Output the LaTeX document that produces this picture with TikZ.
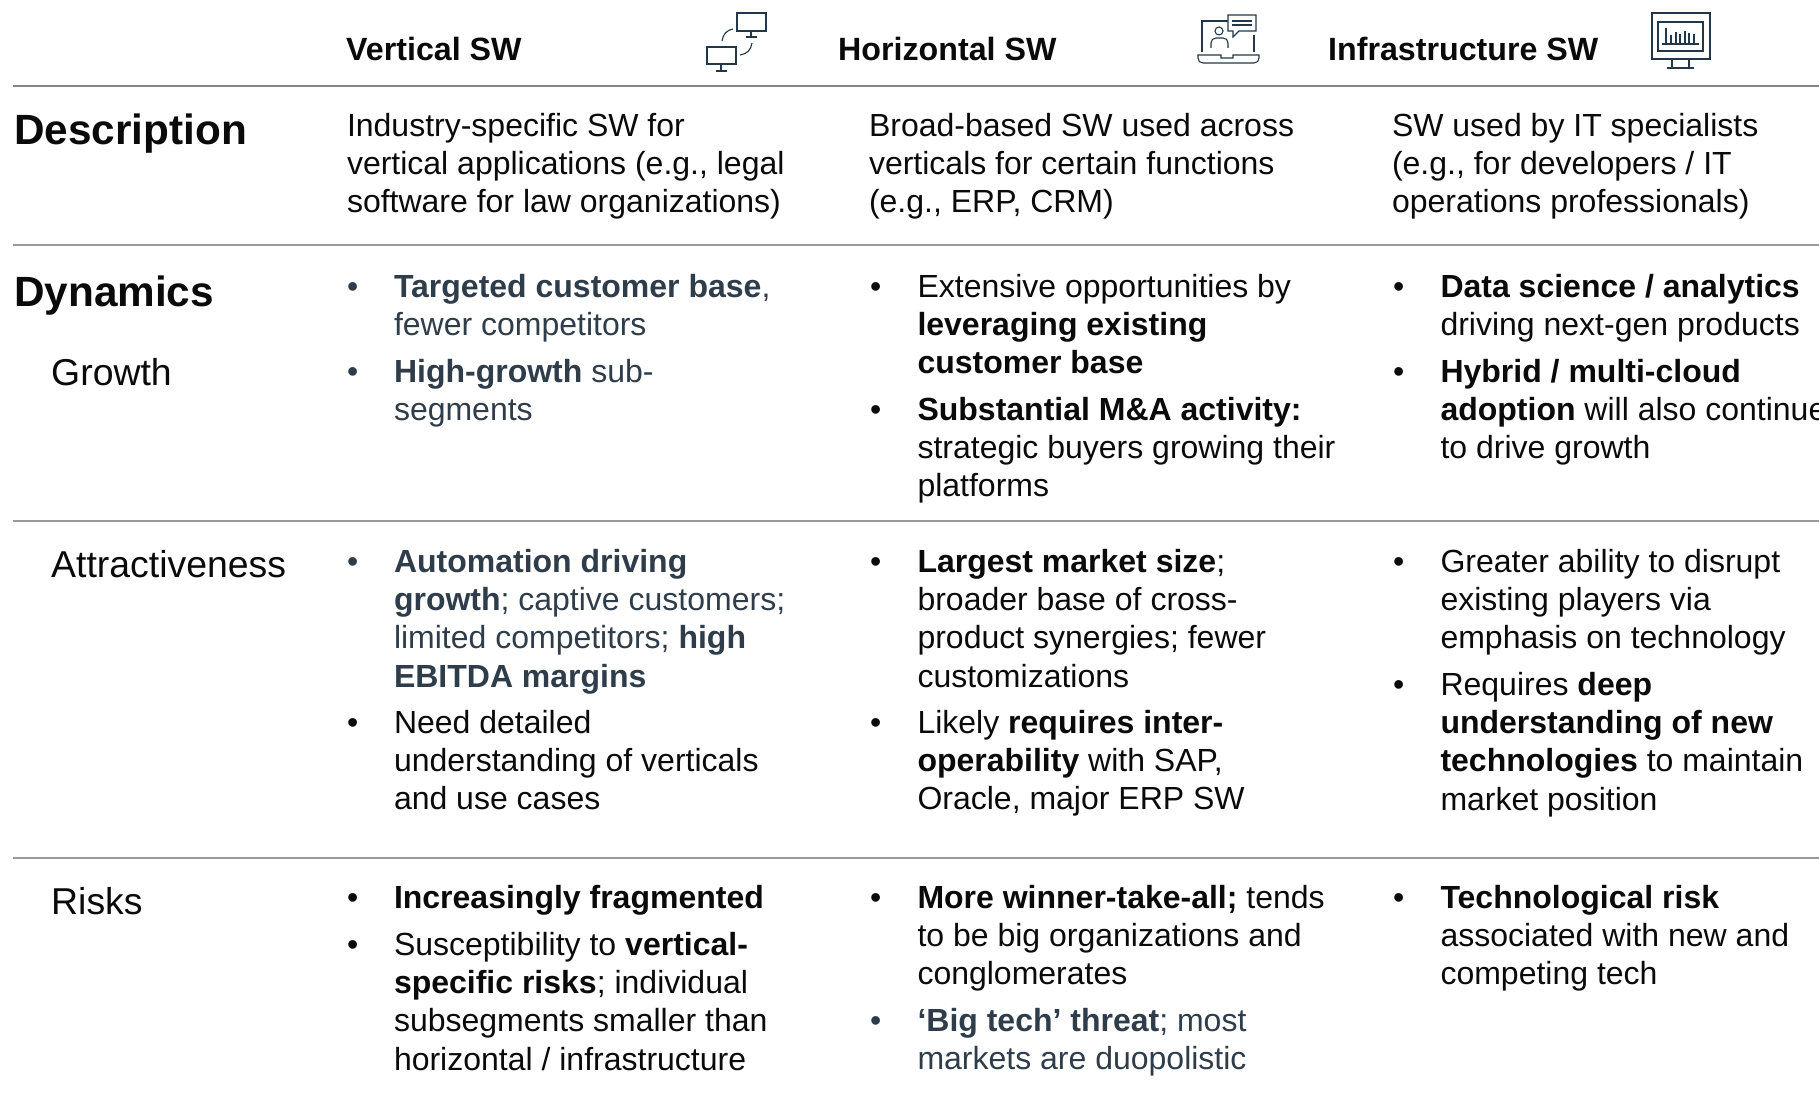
\documentclass[tikz,border=0pt]{standalone}
\usepackage{fontspec}
\setmainfont{Liberation Sans}
\definecolor{slate}{HTML}{2F3D4B}
\definecolor{ink}{HTML}{0A0A0A}
\definecolor{iconc}{HTML}{22384A}
\newcounter{tn}
\tikzset{
  body/.style={inner sep=0pt,outer sep=0pt,anchor=north west,align=left,text=ink,font=\fontsize{32}{38.4}\selectfont},
  rulea/.style={draw=black!48,line width=2.6pt},
  ruleb/.style={draw=black!40,line width=1.3pt},
  icon/.style={draw=iconc,line width=1.1pt,fill=none},
  head/.style={inner sep=0pt,anchor=base west,text=ink,font=\fontsize{32.2}{38}\selectfont\bfseries},
  big/.style={inner sep=0pt,anchor=base west,text=ink,font=\fontsize{42.3}{50}\selectfont\bfseries},
  row/.style={inner sep=0pt,anchor=base west,text=ink,font=\fontsize{37.4}{45}\selectfont},
}
% text block: x, first baseline, options, text
\newcommand{\blk}[4][]{\stepcounter{tn}\node[body,#1] (b\arabic{tn}) at (#2,#3-26.7) {\strut #4};}
% bullet + text block: bullet x, text x, first baseline, options, text
\newcommand{\bul}[5][]{\blk[#1]{#2}{#4}{•}\blk[#1]{#3}{#4}{#5}}
\newcommand{\cA}[3][]{\bul[#1]{347}{394}{#2}{#3}}
\newcommand{\cB}[3][]{\bul[#1]{870}{917.5}{#2}{#3}}
\newcommand{\cC}[3][]{\bul[#1]{1393}{1440.5}{#2}{#3}}
\newcommand{\bb}[1]{\textbf{#1}}
\begin{document}
\begin{tikzpicture}[x=1pt,y=-1pt]
\useasboundingbox (0,0) rectangle (1819,1094);
% rules
\draw[rulea] (13,86) -- (1819,86);
\draw[ruleb] (13,245) -- (1819,245);
\draw[ruleb] (13,521) -- (1819,521);
\draw[ruleb] (13,858) -- (1819,858);
% headers
\node[head] (h1) at (346,61) {Vertical SW};
\node[head] (h2) at (838,61) {Horizontal SW};
\node[head] (h3) at (1328,61) {Infrastructure SW};
% row labels
\node[big] (l1) at (14,145) {Description};
\node[big] (l2) at (14,306) {Dynamics};
\node[row] (l3) at (51,385) {Growth};
\node[row] (l4) at (51,577) {Attractiveness};
\node[row] (l5) at (51,914) {Risks};
% description
\blk{347}{136}{Industry-specific SW for\\vertical applications (e.g., legal\\software for law organizations)}
\blk{869}{136}{Broad-based SW used across\\verticals for certain functions\\(e.g., ERP, CRM)}
\blk{1392}{136}{SW used by IT specialists\\(e.g., for developers / IT\\operations professionals)}
% growth
\cA[text=slate]{297}{\bb{Targeted customer base},\\fewer competitors}
\cA[text=slate]{382}{\bb{High-growth} sub-\\segments}
\cB{297}{Extensive opportunities by\\\bb{leveraging existing}\\\bb{customer base}}
\cB{420}{\bb{Substantial M\&A activity:}\\strategic buyers growing their\\platforms}
\cC{297}{\bb{Data science / analytics}\\driving next-gen products}
\cC{382}{\bb{Hybrid / multi-cloud}\\\bb{adoption} will also continue\\to drive growth}
% attractiveness
\cA[text=slate]{572}{\bb{Automation driving}\\\bb{growth}; captive customers;\\limited competitors; \bb{high}\\\bb{EBITDA margins}}
\cA{733}{Need detailed\\understanding of verticals\\and use cases}
\cB{572}{\bb{Largest market size};\\broader base of cross-\\product synergies; fewer\\customizations}
\cB{733}{Likely \bb{requires inter-}\\\bb{operability} with SAP,\\Oracle, major ERP SW}
\cC{572}{Greater ability to disrupt\\existing players via\\emphasis on technology}
\cC{695}{Requires \bb{deep}\\\bb{understanding of new}\\\bb{technologies} to maintain\\market position}
% risks
\cA{908}{\bb{Increasingly fragmented}}
\cA{955}{Susceptibility to \bb{vertical-}\\\bb{specific risks}; individual\\subsegments smaller than\\horizontal / infrastructure}
\cB{908}{\bb{More winner-take-all;} tends\\to be big organizations and\\conglomerates}
\cB[text=slate]{1031}{\bb{‘Big tech’ threat}; most\\markets are duopolistic}
\cC{908}{\bb{Technological risk}\\associated with new and\\competing tech}
% icon 1: two monitors
\draw[icon] (737,13) rectangle (766,31);
\draw[icon] (751,31) -- (751,37) (746,37) -- (757,37);
\draw[icon] (707,47) rectangle (736,64);
\draw[icon] (721,64) -- (721,71) (716,71) -- (727,71);
\draw[icon] (722,41) .. controls (723,34) and (727,30) .. (733,29);
\draw[icon] (752,43) .. controls (751,50) and (747,54) .. (740,55);
% icon 2: laptop with person and speech bubble
\draw[icon] (1202,52) -- (1202,21) -- (1228,21);
\draw[icon] (1254,35) -- (1254,52);
\draw[icon] (1233,31) -- (1228,31) -- (1228,15) -- (1256,15) -- (1256,31) -- (1239,31) -- (1233,37) -- cycle;
\draw[icon] (1232,21) -- (1252,21) (1232,25) -- (1252,25);
\draw[icon] (1219,31) circle[radius=4];
\draw[icon] (1211,48) -- (1211,43) .. controls (1211,40) and (1213,38) .. (1216,38) -- (1223,38) .. controls (1226,38) and (1228,40) .. (1228,43) -- (1228,48);
\draw[icon] (1198,55) -- (1221,55) -- (1221,58) -- (1233,58) -- (1233,55) -- (1259,55) -- (1259,58) .. controls (1259,61) and (1257,63) .. (1254,63) -- (1203,63) .. controls (1200,63) and (1198,61) .. (1198,58) -- cycle;
% icon 3: monitor with bar chart
\draw[icon] (1652,13) rectangle (1710,59);
\draw[icon] (1658,22) rectangle (1703,51);
\draw[icon] (1662,44) -- (1699,44);
\draw[icon] (1666,44) -- (1666,28) (1671,44) -- (1671,35) (1676,44) -- (1676,32) (1680,44) -- (1680,34) (1685,44) -- (1685,31) (1689,44) -- (1689,33) (1694,44) -- (1694,34);
\draw[icon] (1672,59) -- (1672,68) (1689,59) -- (1689,68) (1667,68) -- (1694,68);
\end{tikzpicture}
\end{document}
